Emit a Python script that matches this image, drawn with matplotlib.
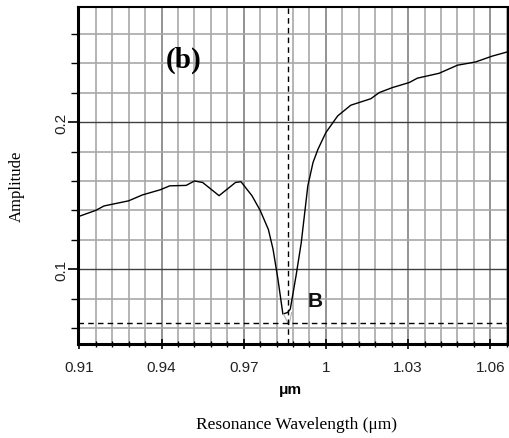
import matplotlib
matplotlib.use("Agg")
import matplotlib.pyplot as plt
from matplotlib.ticker import FixedLocator

wavelength = [0.910, 0.916, 0.919, 0.928, 0.933, 0.9395, 0.943, 0.949, 0.952, 0.955,
              0.961, 0.967, 0.969, 0.973, 0.976, 0.979, 0.9807, 0.9825, 0.9843, 0.986,
              0.987, 0.9891, 0.991, 0.9934, 0.9953, 0.9971, 1.000, 1.0043, 1.0091, 1.0164,
              1.0195, 1.0243, 1.0304, 1.0334, 1.0413, 1.048, 1.0546, 1.0607, 1.0665]
amplitude = [0.136, 0.140, 0.143, 0.1465, 0.1505, 0.154, 0.1567, 0.157, 0.160, 0.159,
             0.150, 0.159, 0.1595, 0.150, 0.140, 0.127, 0.1136, 0.093, 0.0694, 0.0705,
             0.0728, 0.0955, 0.118, 0.1567, 0.1726, 0.1816, 0.193, 0.2043, 0.2116, 0.216,
             0.2202, 0.2236, 0.227, 0.23, 0.2333, 0.2388, 0.241, 0.245, 0.248]
marker_x = 0.986
marker_y = 0.0633
xticks = [0.91, 0.94, 0.97, 1.00, 1.03, 1.06]
xticklabels = ["0.91", "0.94", "0.97", "1", "1.03", "1.06"]
yticks = [0.1, 0.2]
yticklabels = ["0.1", "0.2"]

fig = plt.figure(figsize=(5.09, 4.39), dpi=100)
ax = fig.add_axes([0.1532, 0.214, 0.845, 0.768])
ax.set_xlim(0.9095, 1.0665)
ax.set_ylim(0.049, 0.2785)

xminor = [0.91 + 0.006 * k for k in range(27)]
yminor = [0.02 * k for k in range(2, 14)]
ax.xaxis.set_major_locator(FixedLocator(xticks))
ax.xaxis.set_minor_locator(FixedLocator(xminor))
ax.yaxis.set_major_locator(FixedLocator(yticks))
ax.yaxis.set_minor_locator(FixedLocator(yminor))
ax.grid(which='minor', color='#a8a8a8', linewidth=1.2)
ax.grid(which='major', axis='x', color='#808080', linewidth=1.2)
ax.grid(which='major', axis='y', color='#404040', linewidth=1.0)
ax.set_axisbelow(True)

ax.plot(wavelength, amplitude, color='black', linewidth=1.0)
ax.plot([0.9845, 0.9865, 0.9875], [0.0694, 0.062, 0.0705], color='#b0b0b0', linewidth=0.8)
ax.axhline(marker_y, color='black', linestyle=(0, (4, 3)), linewidth=1.0)
ax.axvline(marker_x, color='black', linestyle=(0, (4, 3)), linewidth=1.0)

ax.text(0.9935, 0.0785, "B", fontsize=15, fontweight='bold', family='Liberation Sans',
        color='#111111', ha='left', va='center')
ax.text(0.948, 0.243, "(b)", fontsize=21, fontweight='bold', family='Liberation Serif',
        ha='center', va='center')

ax.set_xticklabels(xticklabels, family='Liberation Sans', fontsize=11, color='#222222')
ax.set_yticklabels(yticklabels, family='Liberation Sans', fontsize=11, color='#222222',
                   rotation=90, va='center')
ax.tick_params(axis='y', which='both', direction='out', color='black', pad=0)
ax.tick_params(axis='y', which='major', length=7, width=1.2)
ax.tick_params(axis='y', which='minor', length=5, width=1.0)
ax.tick_params(axis='x', which='both', direction='inout', color='black')
ax.tick_params(axis='x', which='major', length=7, width=1.2, pad=8)
ax.tick_params(axis='x', which='minor', length=5, width=1.0)

for s in ['left', 'bottom']:
    ax.spines[s].set_linewidth(2.2)
for s in ['top', 'right']:
    ax.spines[s].set_linewidth(1.5)
    ax.spines[s].set_linestyle((0, (1, 1)))

fig.text(17 / 509, 1 - 186 / 439, "Amplitude", family='Liberation Serif', fontsize=12,
         rotation=90, ha='center', va='center')
fig.text(290 / 509, 1 - 390 / 439, "\u03bcm", family='Liberation Sans', fontweight='bold',
         fontsize=11, ha='center', va='center')
fig.text(297 / 509, 1 - 425 / 439, "Resonance Wavelength (\u03bcm)", family='Liberation Serif',
         fontsize=12.5, ha='center', va='center')

fig.savefig("out.png", dpi=100)
